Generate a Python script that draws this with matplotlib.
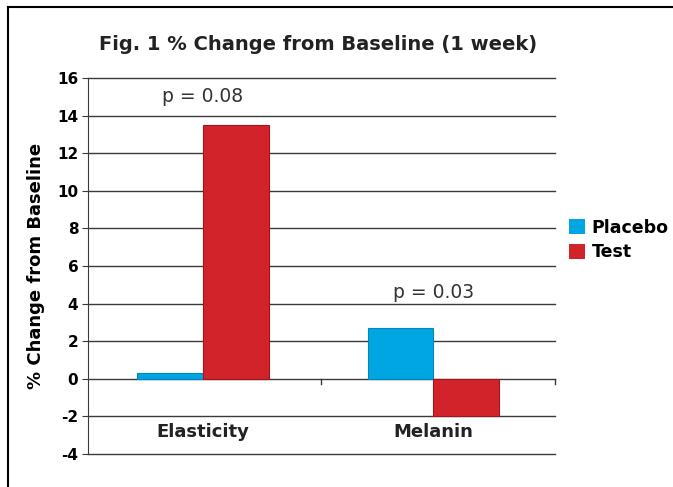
import matplotlib.pyplot as plt
import numpy as np
from matplotlib.lines import Line2D
from matplotlib.patches import Patch

categories = ["Elasticity", "Melanin"]
placebo = [0.3, 2.7]
test = [13.5, -2.0]
p_labels = ["p = 0.08", "p = 0.03"]
p_y = [15.0, 4.6]

BLUE = "#00a6e2"
RED = "#d2232b"
GRID = "#3a3a3a"

plt.rcParams["font.family"] = ["DejaVu Sans"]

fig = plt.figure(figsize=(6.73, 4.87), dpi=100)
ax = fig.add_axes([88 / 673, 1 - 454 / 487, (555 - 88) / 673, (454 - 78) / 487])

x = np.arange(len(categories))
w = 0.285
ax.bar(x - w / 2, placebo, w, color=BLUE, edgecolor="#0088b8", linewidth=0.8, zorder=3)
ax.bar(x + w / 2, test, w, color=RED, edgecolor="#a0161d", linewidth=0.8, zorder=3)

ax.set_xlim(-0.5, 1.53)
ax.set_ylim(-4, 16)
ax.set_yticks(range(-4, 17, 2))
ax.set_yticklabels([str(v) for v in range(-4, 17, 2)], fontweight="bold", fontsize=11)
ax.set_xticks([])
for v in range(-4, 17, 2):
    ax.axhline(v, color=GRID, linewidth=1.0, zorder=1, clip_on=False)
for s in ["top", "right", "bottom"]:
    ax.spines[s].set_visible(False)
ax.spines["left"].set_color(GRID)
ax.tick_params(axis="y", length=4, color=GRID, pad=3)

# category separators on the zero axis
for xb in [0.513, 1.53]:
    ax.plot([xb, xb], [0, -0.25], color=GRID, linewidth=1.0, clip_on=False, zorder=2)

for i, c in enumerate(categories):
    ax.text(x[i], -2.85, c, ha="center", va="center", fontsize=13, fontweight="bold", color="#222222")
    ax.text(x[i], p_y[i], p_labels[i], ha="center", va="center", fontsize=13.5, color="#333333")

ax.set_ylabel("% Change from Baseline", fontsize=13, fontweight="bold", labelpad=9)

fig.text(318 / 673, 1 - 44 / 487, "Fig. 1 % Change from Baseline (1 week)", ha="center", va="center",
         fontsize=14, fontweight="bold", color="#222222")

handles = [Patch(facecolor=BLUE), Patch(facecolor=RED)]
fig.legend(handles, ["Placebo", "Test"], loc="center left", bbox_to_anchor=(562 / 673, 1 - 240 / 487),
           frameon=False, prop={"weight": "bold", "size": 12.5}, handlelength=0.9, handleheight=0.9,
           handletextpad=0.4, labelspacing=0.4, borderaxespad=0)

# outer frame (left and top)
fig.add_artist(Line2D([8 / 673, 8 / 673], [0, 1 - 7 / 487], color="black", linewidth=1.5))
fig.add_artist(Line2D([8 / 673, 1], [1 - 7 / 487, 1 - 7 / 487], color="black", linewidth=1.5))

fig.savefig("out.png", dpi=100)
